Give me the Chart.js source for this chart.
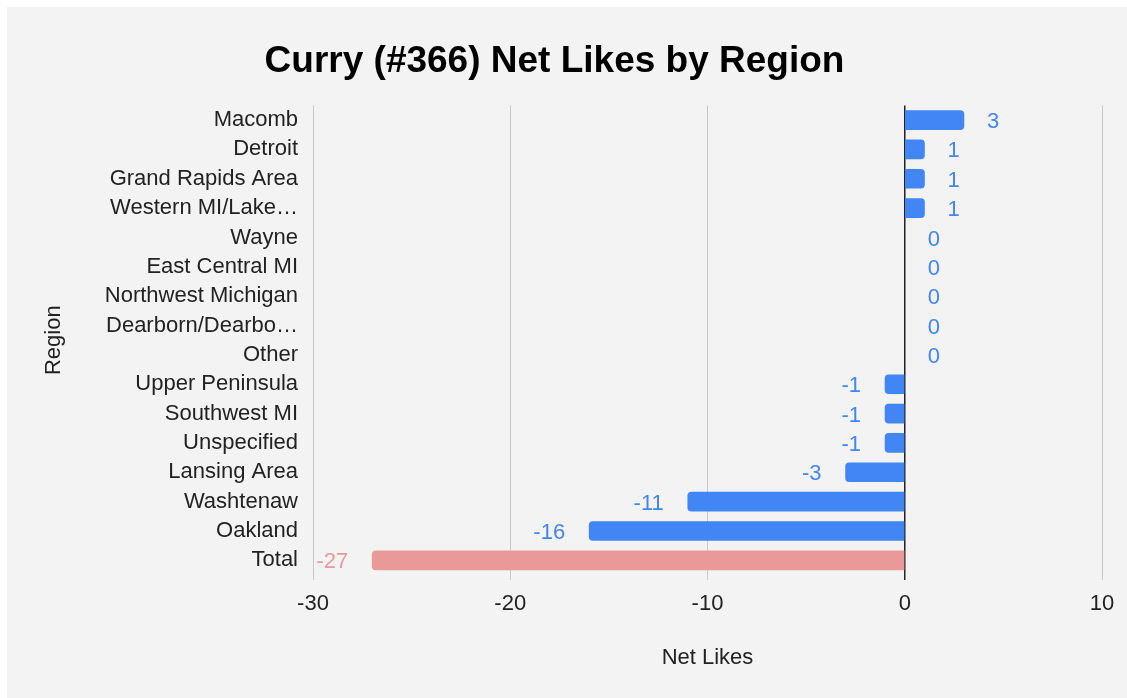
<!DOCTYPE html>
<html>
<head>
<meta charset="utf-8">
<script src="https://cdn.jsdelivr.net/npm/chart.js@4"></script>
<style>
  body { margin: 0; background: #ffffff; }
  #wrap { position: absolute; left: 7px; top: 7px; width: 1120px; height: 691px; background: #f3f3f3; }
</style>
</head>
<body>
<div id="wrap"><canvas id="chart"></canvas></div>
<script>
const regions = [
  "Macomb", "Detroit", "Grand Rapids Area", "Western MI/Lake\u2026", "Wayne",
  "East Central MI", "Northwest Michigan", "Dearborn/Dearbo\u2026", "Other",
  "Upper Peninsula", "Southwest MI", "Unspecified", "Lansing Area",
  "Washtenaw", "Oakland", "Total"
];
const netLikes = [3, 1, 1, 1, 0, 0, 0, 0, 0, -1, -1, -1, -3, -11, -16, -27];
const xTicks = [-30, -20, -10, 0, 10];

const blue = "#4285f4";
const salmon = "#ea9999";
const colors = regions.map((r) => (r === "Total" ? salmon : blue));

const FONT = "'Liberation Sans', Arial, Helvetica, sans-serif";

const valueLabels = {
  id: "valueLabels",
  afterDatasetsDraw(chart) {
    const c = chart.ctx;
    const meta = chart.getDatasetMeta(0);
    c.save();
    c.font = "22px " + FONT;
    c.textBaseline = "middle";
    meta.data.forEach((bar, i) => {
      const v = netLikes[i];
      c.fillStyle = colors[i];
      if (v >= 0) {
        c.textAlign = "left";
        c.fillText(String(v), bar.x + 23, bar.y + 2);
      } else {
        c.textAlign = "right";
        c.fillText(String(v), bar.x - 24, bar.y + 2);
      }
    });
    c.restore();
  },
};

const ctx = document.querySelector("#chart").getContext("2d");

const myChart = new Chart(ctx, {
  type: "bar",
  data: {
    labels: regions,
    datasets: [
      {
        data: netLikes,
        backgroundColor: (c) => (netLikes[c.dataIndex] === 0 ? "rgba(0,0,0,0)" : colors[c.dataIndex]),
        barThickness: 19,
        borderRadius: 4,
        borderSkipped: "start",
      },
    ],
  },
  plugins: [valueLabels],
  options: {
    indexAxis: "y",
    responsive: true,
    maintainAspectRatio: false,
    animation: false,
    layout: { padding: { left: 0, right: 25, top: 0, bottom: 0 } },
    plugins: {
      legend: { display: false },
      tooltip: { enabled: false },
      title: {
        display: true,
        text: "Curry (#366) Net Likes by Region",
        color: "#000000",
        font: { family: FONT, size: 37, weight: "bold" },
        padding: { top: 33, bottom: 21 },
      },
    },
    scales: {
      x: {
        min: -30,
        max: 10,
        afterBuildTicks: (scale) => {
          scale.ticks = xTicks.map((v) => ({ value: v }));
        },
        afterFit: (scale) => {
          scale.height = 123;
        },
        grid: {
          color: (c) => (c.tick && c.tick.value === 0 ? "#222222" : "#c8c8c8"),
          lineWidth: (c) => (c.tick && c.tick.value === 0 ? 1.5 : 1),
          drawTicks: true,
          tickLength: 5,
        },
        border: { display: false },
        ticks: {
          color: "#222222",
          font: { family: FONT, size: 22 },
          padding: 11,
        },
        title: {
          display: true,
          text: "Net Likes",
          color: "#222222",
          font: { family: FONT, size: 22 },
          padding: { bottom: 27 },
        },
      },
      y: {
        afterFit: (scale) => {
          scale.width = 306;
        },
        grid: { display: false },
        border: { display: false },
        ticks: {
          color: "#222222",
          font: { family: FONT, size: 22 },
          padding: 7,
          autoSkip: false,
        },
        title: {
          display: true,
          text: "Region",
          color: "#222222",
          font: { family: FONT, size: 22 },
          padding: { top: 34 },
        },
      },
    },
  },
});
</script>
</body>
</html>
